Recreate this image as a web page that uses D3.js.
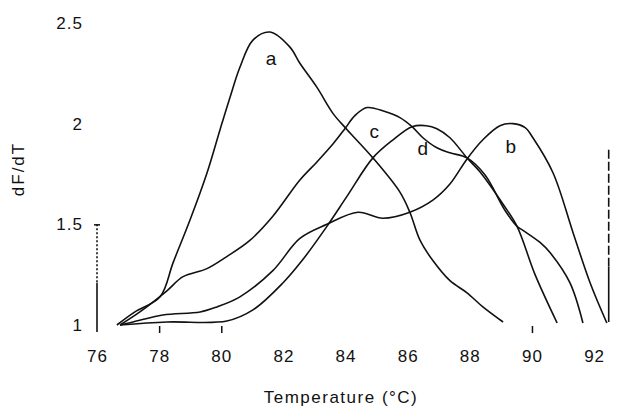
<!DOCTYPE html>
<html>
<head>
<meta charset="utf-8">
<script src="https://cdn.jsdelivr.net/npm/d3@7"></script>
<style>
  body { margin: 0; background: #fff; }
  text { font-family: "Liberation Sans", Arial, sans-serif; fill: #111; }
</style>
</head>
<body>
<div id="container"></div>
<script>
// melt curves, [temperature, dF/dT]
let curveA = [[76.64,1.0],[77.22,1.065],[78.03,1.14],[78.45,1.31],[78.99,1.52],[79.54,1.755],[79.96,1.97],
  [80.28,2.13],[80.6,2.28],[81.02,2.415],[81.57,2.455],[82.21,2.38],[82.53,2.30],[83.08,2.18],[83.6,2.05],
  [84.05,1.97],[84.88,1.83],[85.75,1.66],[86.07,1.56],[86.4,1.42],[86.81,1.32],[87.36,1.22],[87.91,1.16],
  [88.42,1.09],[89.07,1.015]];
let curveB = [[76.74,1.0],[77.16,1.015],[78.12,1.05],[79.32,1.065],[79.86,1.09],[80.6,1.14],[81.66,1.27],
  [82.53,1.43],[83.4,1.50],[84.4,1.56],[85.2,1.53],[86.07,1.56],[86.81,1.62],[87.36,1.70],[87.91,1.825],
  [88.42,1.92],[88.97,1.99],[89.39,2.0],[89.78,1.98],[90.03,1.93],[90.68,1.755],[91.32,1.46],[91.87,1.21],
  [92.41,1.01]];
let curveC = [[76.74,1.0],[77.38,1.065],[78.25,1.17],[78.77,1.24],[79.54,1.28],[80.18,1.34],[80.92,1.42],
  [81.66,1.54],[82.53,1.72],[83.08,1.81],[83.6,1.90],[83.98,1.975],[84.3,2.04],[84.69,2.08],[85.27,2.06],
  [85.75,2.03],[86.14,1.985],[86.49,1.93],[86.94,1.88],[87.36,1.855],[87.91,1.83],[88.49,1.745],[89.13,1.57],
  [89.52,1.49],[89.71,1.47],[90.26,1.41],[90.58,1.36],[91.22,1.21],[91.64,1.01]];
let curveD = [[76.74,1.0],[78.25,1.015],[80.18,1.02],[81.02,1.075],[81.99,1.21],[82.6,1.32],[83.4,1.49],
  [84.05,1.64],[84.88,1.83],[85.53,1.92],[86.14,1.985],[86.6,1.99],[86.94,1.975],[87.36,1.93],[87.91,1.83],
  [88.33,1.76],[89.07,1.60],[89.52,1.49],[90.1,1.25],[90.81,1.01]];

let curveLabels = [["a",81.6,2.29],["b",89.32,1.855],["c",84.92,1.93],["d",86.49,1.845]];
let xTicks = [76,78,80,82,84,86,88,90,92];
let xTickMarks = [78,80,90];
let yTicks = [1,1.5,2,2.5];

// the two vertical edge lines: [temperature, from, to, dashed]
let edgeLines = [[76,1.5,1.21,"2,2"],[76,1.21,0.965,null],[92.47,1.87,1.29,"9,3"],[92.47,1.29,1.015,null]];

let w = 619, h = 410;
let svg = d3.select("#container").append("svg")
    .attr("width", w)
    .attr("height", h);

let x = d3.scaleLinear().domain([76, 92]).range([97, 594.1]);
let y = d3.scaleLinear().domain([1, 2.5]).range([325, 23]);

let line = d3.line()
    .x(d => x(d[0]))
    .y(d => y(d[1]))
    .curve(d3.curveCatmullRom.alpha(0.5));

svg.selectAll(".curve")
  .data([curveA, curveB, curveC, curveD])
  .enter()
  .append("path")
    .attr("class", "curve")
    .attr("d", line)
    .attr("fill", "none")
    .attr("stroke", "#111")
    .attr("stroke-width", 1.6);

svg.selectAll(".edge")
  .data(edgeLines)
  .enter()
  .append("line")
    .attr("class", "edge")
    .attr("x1", d => x(d[0]))
    .attr("x2", d => x(d[0]))
    .attr("y1", d => y(d[1]))
    .attr("y2", d => y(d[2]))
    .attr("stroke", "#111")
    .attr("stroke-width", 1.6)
    .attr("stroke-dasharray", d => d[3]);

// tick labels
let xAxis = svg.append("g")
    .attr("transform", "translate(0," + y(1) + ")")
    .call(d3.axisBottom(x).tickValues(xTicks).tickSize(0).tickPadding(25));
xAxis.select(".domain").remove();

let xMarks = svg.append("g")
    .attr("transform", "translate(0," + (y(1) + 1) + ")")
    .call(d3.axisBottom(x).tickValues(xTickMarks).tickSize(7).tickFormat(""));
xMarks.select(".domain").remove();

let yAxis = svg.append("g")
    .attr("transform", "translate(" + x(76) + ",0)")
    .call(d3.axisLeft(y).tickValues(yTicks).tickSize(0).tickPadding(14).tickFormat(d => d));
yAxis.select(".domain").remove();

let yMark = svg.append("g")
    .attr("transform", "translate(" + (x(76) + 3) + ",0)")
    .call(d3.axisLeft(y).tickValues([1.5]).tickSize(6).tickFormat(""));
yMark.select(".domain").remove();

svg.selectAll(".tick line").attr("stroke", "#111").attr("stroke-width", 1.5);
svg.selectAll(".tick text")
    .style("font-size", "17px")
    .style("letter-spacing", "1px")
    .style("font-family", "'Liberation Sans', Arial, sans-serif")
    .attr("fill", "#111");

svg.selectAll(".clabel")
  .data(curveLabels)
  .enter()
  .append("text")
    .attr("class", "clabel")
    .attr("x", d => x(d[1]))
    .attr("y", d => y(d[2]))
    .attr("text-anchor", "middle")
    .style("font-size", "19px")
    .text(d => d[0]);

svg.append("text")
    .attr("x", 341)
    .attr("y", 403)
    .attr("text-anchor", "middle")
    .style("font-size", "17px")
    .style("letter-spacing", "1.5px")
    .text("Temperature (°C)");

svg.append("text")
    .attr("transform", "translate(24,169) rotate(-90)")
    .attr("text-anchor", "middle")
    .style("font-size", "17px")
    .style("letter-spacing", "2px")
    .text("dF/dT");
</script>
</body>
</html>
